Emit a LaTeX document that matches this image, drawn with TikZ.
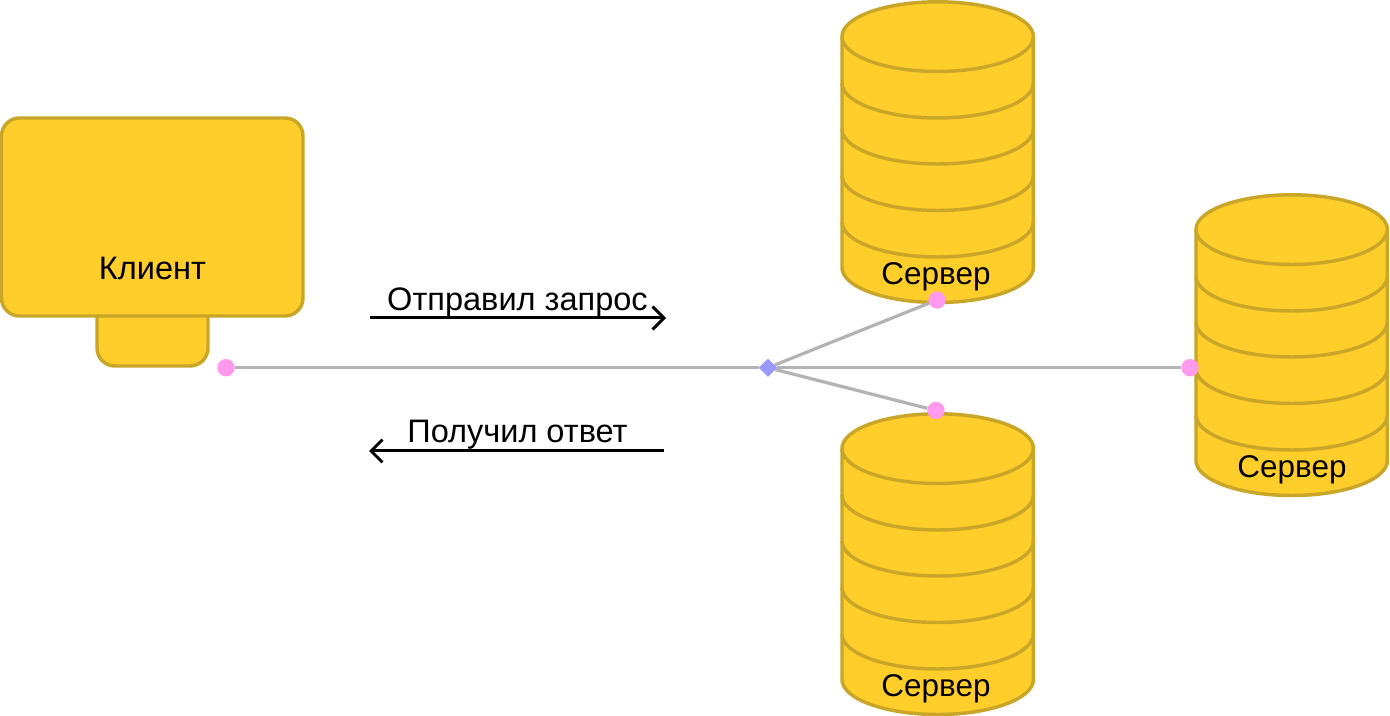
\documentclass[tikz,border=0pt]{standalone}
\usepackage{fontspec}
\setmainfont{Liberation Sans}
\usetikzlibrary{arrows.meta,shapes.geometric}
\definecolor{fillY}{HTML}{FFCE2B}
\definecolor{edgeY}{HTML}{C9A627}
\definecolor{linkG}{HTML}{B3B3B3}
\definecolor{dotP}{HTML}{FF99EE}
\definecolor{hubB}{HTML}{9999FF}
\tikzset{
  shapeY/.style={draw=edgeY,fill=fillY,line width=2.6pt,line join=round},
  ringY/.style={draw=edgeY,line width=2.6pt},
  link/.style={draw=linkG,line width=2.4pt},
  dot/.style={circle,fill=dotP,draw=none,minimum size=13pt,inner sep=0pt},
  hub/.style={diamond,fill=hubB,draw=none,minimum size=13.5pt,inner sep=0pt},
  flow/.style={draw=black,line width=2.25pt,-{Straight Barb[length=8.5pt,width=17pt,line width=2.25pt]}},
  lbl/.style={font=\fontsize{24.4pt}{28pt}\selectfont,text=black,inner sep=0pt,anchor=base},
  srvlbl/.style={lbl,font=\fontsize{23.6pt}{28pt}\selectfont},
}
\newcommand{\serverdraw}[4]{%
  \begin{scope}[shift={(#1,#2)}]
    \path[shapeY] (-95.5,0) arc[start angle=180,end angle=360,x radius=95.7,y radius=34.7]
      -- (95.9,231) arc[start angle=0,end angle=180,x radius=95.7,y radius=35] -- cycle;
    \foreach \d in {0,46.5,92.5,139,185.5}
      \draw[ringY] (-95.5,\d) arc[start angle=180,end angle=0,x radius=95.7,y radius=35];
    \node[srvlbl] (#3) at (#4,248) {Сервер};
  \end{scope}}
\begin{document}
\begin{tikzpicture}[x=0.75pt,y=-0.75pt]
\useasboundingbox[fill=white] (0,0) rectangle (1390,716);
% client
\path[shapeY,rounded corners=13.5pt] (97,300) -- (97,366) -- (208,366) -- (208,300);
\path[shapeY,rounded corners=13.5pt] (1.5,118) rectangle (303,316);
\node[lbl] (client) at (152.5,280) {Клиент};
% servers
\serverdraw{937.5}{36.5}{serverA}{-1.5}
\serverdraw{1291.5}{229.5}{serverB}{0.5}
\serverdraw{937.5}{448.5}{serverC}{-1.5}
% links
\node[hub] (hub) at (768,367.7) {};
\node[dot] (dc) at (226,367.7) {};
\node[dot] (da) at (937,300) {};
\node[dot] (db) at (1190,367.7) {};
\node[dot] (dd) at (936,410.5) {};
\draw[link] (dc) -- (hub);
\draw[link] (hub) -- (da);
\draw[link] (hub) -- (db);
\draw[link] (hub) -- (dd);
\node[hub] at (hub) {};
% flows
\coordinate (s1) at (370,318);
\coordinate (e1) at (666,318);
\coordinate (s2) at (664,451);
\coordinate (e2) at (369,451);
\draw[flow] (s1) -- (e1);
\draw[flow] (s2) -- (e2);
\node[lbl] (req) at (517.5,310.5) {Отправил запрос};
\node[lbl] (resp) at (517.5,442.5) {Получил ответ};
\end{tikzpicture}
\end{document}
